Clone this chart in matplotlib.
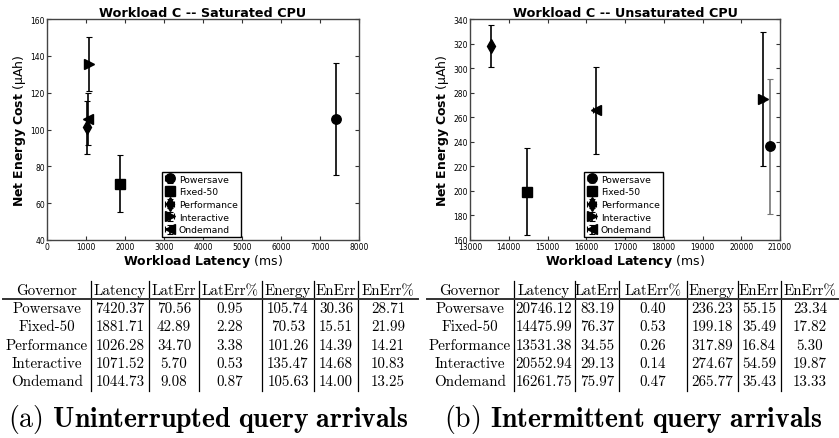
import numpy as np
import matplotlib
matplotlib.use('Agg')
import matplotlib.pyplot as plt
from matplotlib.lines import Line2D

governors = ['Powersave', 'Fixed-50', 'Performance', 'Interactive', 'Ondemand']
markers = ['o', 's', 'd', '>', '<']

# (a) saturated CPU
sat_latency = [7420.37, 1881.71, 1026.28, 1071.52, 1044.73]
sat_laterr = [70.56, 42.89, 34.70, 5.70, 9.08]
sat_laterr_pct = [0.95, 2.28, 3.38, 0.53, 0.87]
sat_energy = [105.74, 70.53, 101.26, 135.47, 105.63]
sat_enerr = [30.36, 15.51, 14.39, 14.68, 14.00]
sat_enerr_pct = [28.71, 21.99, 14.21, 10.83, 13.25]

# (b) unsaturated CPU
unsat_latency = [20746.12, 14475.99, 13531.38, 20552.94, 16261.75]
unsat_laterr = [83.19, 76.37, 34.55, 29.13, 75.97]
unsat_laterr_pct = [0.40, 0.53, 0.26, 0.14, 0.47]
unsat_energy = [236.23, 199.18, 317.89, 274.67, 265.77]
unsat_enerr = [55.15, 35.49, 16.84, 54.59, 35.43]
unsat_enerr_pct = [23.34, 17.82, 5.30, 19.87, 13.33]

headers = ['Governor', 'Latency', 'LatErr', 'LatErr%', 'Energy', 'EnErr', 'EnErr%']

W, H = 839, 439
fig = plt.figure(figsize=(W / 100, H / 100), dpi=100)


def px(x, y):
    return x / W, 1 - y / H


def scatter_panel(rect, lat, laterr, en, enerr, title, xlim, ylim, xticks, yticks, ecolors):
    ax = fig.add_axes(rect)
    for i in range(len(governors)):
        ax.errorbar(lat[i], en[i], xerr=laterr[i], yerr=enerr[i], fmt=markers[i],
                    color='black', ecolor=ecolors[i], markersize=6.8, capsize=2,
                    elinewidth=1.2, capthick=0.8, label=governors[i])
    ax.set_xlim(xlim)
    ax.set_ylim(ylim)
    ax.set_xticks(xticks)
    ax.set_yticks(yticks)
    ax.tick_params(direction='in', top=True, right=True, labelsize=5.5, length=3,
                   width=0.8, pad=1.5, colors='#333333', labelcolor='black')
    for s in ax.spines.values():
        s.set_color('#444444')
        s.set_linewidth(1.0)
    ax.set_title(title, fontsize=9.2, fontweight='bold', pad=2)
    ax.set_xlabel(r'$\mathbf{Workload\ Latency}$ (ms)', fontsize=9, labelpad=1,
                  math_fontfamily='dejavusans')
    ax.set_ylabel(r'$\mathbf{Net\ Energy\ Cost}$' + ' (\u03bcAh)', fontsize=9, labelpad=2,
                  math_fontfamily='dejavusans')
    leg = ax.legend(loc='lower center', bbox_to_anchor=(0.495, 0.0), fontsize=6.7,
                    fancybox=False, edgecolor='black', framealpha=1, numpoints=1,
                    handlelength=1.0, handletextpad=0.5, borderpad=0.3,
                    labelspacing=0.4, borderaxespad=0.3)
    leg.get_frame().set_linewidth(1.0)
    return ax


scatter_panel([47 / W, 1 - 241 / H, 312 / W, 221 / H], sat_latency, sat_laterr,
              sat_energy, sat_enerr, 'Workload C -- Saturated CPU', (0, 8000), (40, 160),
              np.arange(0, 8001, 1000), np.arange(40, 161, 20), ['black'] * 5)
scatter_panel([470 / W, 1 - 241 / H, 310 / W, 221 / H], unsat_latency, unsat_laterr,
              unsat_energy, unsat_enerr, 'Workload C -- Unsaturated CPU', (13000, 21000),
              (160, 340), np.arange(13000, 21001, 1000), np.arange(160, 341, 20),
              ['#777777', 'black', 'black', 'black', 'black'])


def table(cols_x, seps, rule, rows, caption_x, caption):
    header_y = 291
    row_y = [309, 327, 346, 364, 382]
    for j, h in enumerate(headers):
        x, y = px(cols_x[j], header_y)
        fig.text(x, y, h, family='cmr10', fontsize=10.8, ha='center', va='center')
    for i in range(len(governors)):
        for j in range(len(headers)):
            x, y = px(cols_x[j], row_y[i])
            fig.text(x, y, rows[i][j], family='cmr10', fontsize=10.8, ha='center', va='center')
    for s in seps:
        x0, y0 = px(s, 282)
        x1, y1 = px(s, 392)
        fig.add_artist(Line2D([x0, x1], [y0, y1], color='black', lw=0.9))
    x0, y0 = px(rule[0], 300)
    x1, y1 = px(rule[1], 300)
    fig.add_artist(Line2D([x0, x1], [y0, y1], color='#333333', lw=1.4))
    x, y = px(caption_x, 420)
    fig.text(x, y, caption, family='cmr10', fontsize=20, ha='center', va='center',
             math_fontfamily='cm')


def rows_of(lat, laterr, laterr_pct, en, enerr, enerr_pct):
    out = []
    for i in range(len(governors)):
        out.append([governors[i], '%.2f' % lat[i], '%.2f' % laterr[i], '%.2f' % laterr_pct[i],
                    '%.2f' % en[i], '%.2f' % enerr[i], '%.2f' % enerr_pct[i]])
    return out


table([47, 120, 174, 230, 288, 336, 388], [91, 149, 199, 262, 314, 358], (3, 418),
      rows_of(sat_latency, sat_laterr, sat_laterr_pct, sat_energy, sat_enerr, sat_enerr_pct),
      208, r'(a) $\mathbf{Uninterrupted\ query\ arrivals}$')
table([470, 544, 597, 653, 712, 759, 810], [514, 575, 619, 687, 738, 781], (427, 839),
      rows_of(unsat_latency, unsat_laterr, unsat_laterr_pct, unsat_energy, unsat_enerr,
              unsat_enerr_pct),
      633, r'(b) $\mathbf{Intermittent\ query\ arrivals}$')

fig.savefig('out.png', dpi=100)
